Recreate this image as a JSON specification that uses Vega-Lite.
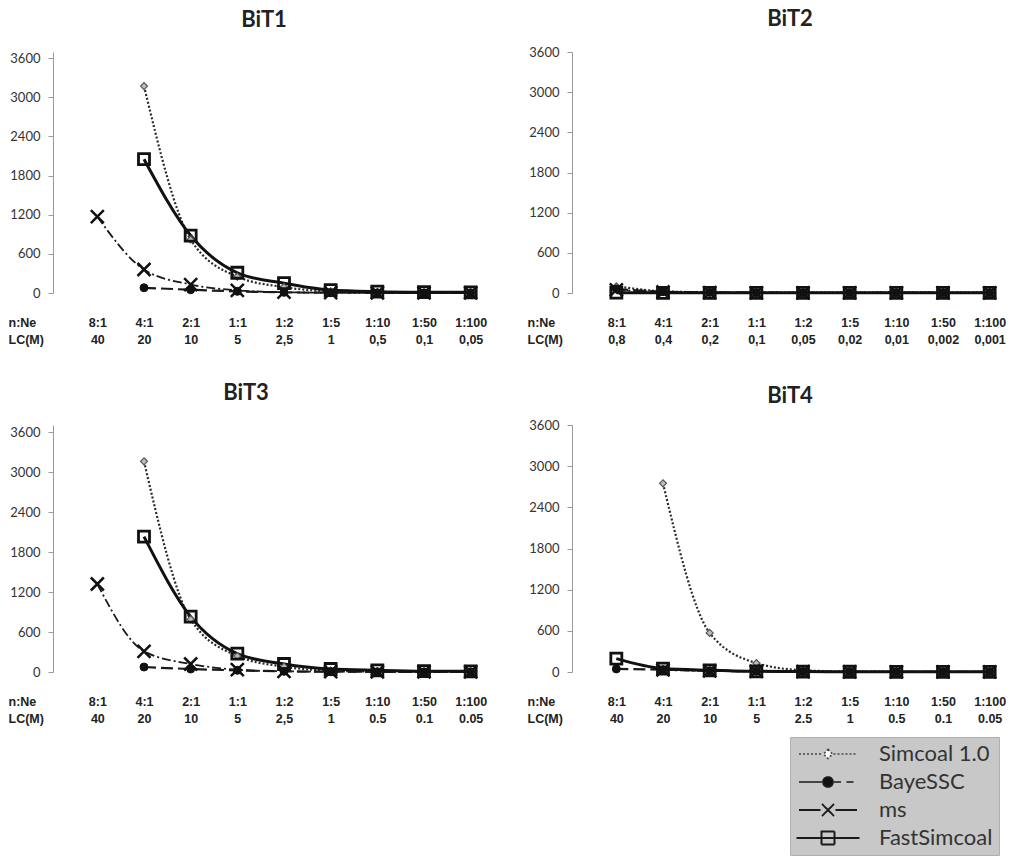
{
  "$schema": "https://vega.github.io/schema/vega-lite/v6.json",
  "background": "white",
  "padding": {"left": 8, "top": 8, "right": 5, "bottom": 0},
  "columns": 2,
  "spacing": {"row": 132, "column": 57},
  "bounds": "flush",
  "datasets": {
    "bit1": [
      {"ratio": "4:1", "series": "Simcoal 1.0", "value": 3170},
      {"ratio": "2:1", "series": "Simcoal 1.0", "value": 820},
      {"ratio": "1:1", "series": "Simcoal 1.0", "value": 250},
      {"ratio": "1:2", "series": "Simcoal 1.0", "value": 90},
      {"ratio": "1:5", "series": "Simcoal 1.0", "value": 25},
      {"ratio": "1:10", "series": "Simcoal 1.0", "value": 10},
      {"ratio": "1:50", "series": "Simcoal 1.0", "value": 5},
      {"ratio": "1:100", "series": "Simcoal 1.0", "value": 5},
      {"ratio": "4:1", "series": "BayeSSC", "value": 80},
      {"ratio": "2:1", "series": "BayeSSC", "value": 50},
      {"ratio": "1:1", "series": "BayeSSC", "value": 25},
      {"ratio": "1:2", "series": "BayeSSC", "value": 10},
      {"ratio": "1:5", "series": "BayeSSC", "value": 5},
      {"ratio": "1:10", "series": "BayeSSC", "value": 3},
      {"ratio": "1:50", "series": "BayeSSC", "value": 2},
      {"ratio": "1:100", "series": "BayeSSC", "value": 2},
      {"ratio": "8:1", "series": "ms", "value": 1170},
      {"ratio": "4:1", "series": "ms", "value": 360},
      {"ratio": "2:1", "series": "ms", "value": 130},
      {"ratio": "1:1", "series": "ms", "value": 40},
      {"ratio": "1:2", "series": "ms", "value": 12},
      {"ratio": "1:5", "series": "ms", "value": 5},
      {"ratio": "1:10", "series": "ms", "value": 3},
      {"ratio": "1:50", "series": "ms", "value": 2},
      {"ratio": "1:100", "series": "ms", "value": 2},
      {"ratio": "4:1", "series": "FastSimcoal", "value": 2050},
      {"ratio": "2:1", "series": "FastSimcoal", "value": 880},
      {"ratio": "1:1", "series": "FastSimcoal", "value": 310},
      {"ratio": "1:2", "series": "FastSimcoal", "value": 150},
      {"ratio": "1:5", "series": "FastSimcoal", "value": 45},
      {"ratio": "1:10", "series": "FastSimcoal", "value": 20},
      {"ratio": "1:50", "series": "FastSimcoal", "value": 12},
      {"ratio": "1:100", "series": "FastSimcoal", "value": 10}
    ],
    "bit2": [
      {"ratio": "8:1", "series": "Simcoal 1.0", "value": 100},
      {"ratio": "4:1", "series": "Simcoal 1.0", "value": 25},
      {"ratio": "2:1", "series": "Simcoal 1.0", "value": 10},
      {"ratio": "1:1", "series": "Simcoal 1.0", "value": 5},
      {"ratio": "1:2", "series": "Simcoal 1.0", "value": 5},
      {"ratio": "1:5", "series": "Simcoal 1.0", "value": 5},
      {"ratio": "1:10", "series": "Simcoal 1.0", "value": 10},
      {"ratio": "1:50", "series": "Simcoal 1.0", "value": 8},
      {"ratio": "1:100", "series": "Simcoal 1.0", "value": 5},
      {"ratio": "8:1", "series": "BayeSSC", "value": 60},
      {"ratio": "4:1", "series": "BayeSSC", "value": 20},
      {"ratio": "2:1", "series": "BayeSSC", "value": 8},
      {"ratio": "1:1", "series": "BayeSSC", "value": 5},
      {"ratio": "1:2", "series": "BayeSSC", "value": 3},
      {"ratio": "1:5", "series": "BayeSSC", "value": 3},
      {"ratio": "1:10", "series": "BayeSSC", "value": 2},
      {"ratio": "1:50", "series": "BayeSSC", "value": 2},
      {"ratio": "1:100", "series": "BayeSSC", "value": 2},
      {"ratio": "8:1", "series": "ms", "value": 45},
      {"ratio": "4:1", "series": "ms", "value": 15},
      {"ratio": "2:1", "series": "ms", "value": 6},
      {"ratio": "1:1", "series": "ms", "value": 3},
      {"ratio": "1:2", "series": "ms", "value": 2},
      {"ratio": "1:5", "series": "ms", "value": 2},
      {"ratio": "1:10", "series": "ms", "value": 2},
      {"ratio": "1:50", "series": "ms", "value": 2},
      {"ratio": "1:100", "series": "ms", "value": 2},
      {"ratio": "8:1", "series": "FastSimcoal", "value": 5},
      {"ratio": "4:1", "series": "FastSimcoal", "value": 3},
      {"ratio": "2:1", "series": "FastSimcoal", "value": 2},
      {"ratio": "1:1", "series": "FastSimcoal", "value": 2},
      {"ratio": "1:2", "series": "FastSimcoal", "value": 2},
      {"ratio": "1:5", "series": "FastSimcoal", "value": 2},
      {"ratio": "1:10", "series": "FastSimcoal", "value": 2},
      {"ratio": "1:50", "series": "FastSimcoal", "value": 2},
      {"ratio": "1:100", "series": "FastSimcoal", "value": 2}
    ],
    "bit3": [
      {"ratio": "4:1", "series": "Simcoal 1.0", "value": 3160},
      {"ratio": "2:1", "series": "Simcoal 1.0", "value": 790},
      {"ratio": "1:1", "series": "Simcoal 1.0", "value": 240},
      {"ratio": "1:2", "series": "Simcoal 1.0", "value": 80},
      {"ratio": "1:5", "series": "Simcoal 1.0", "value": 20},
      {"ratio": "1:10", "series": "Simcoal 1.0", "value": 8},
      {"ratio": "1:50", "series": "Simcoal 1.0", "value": 4},
      {"ratio": "1:100", "series": "Simcoal 1.0", "value": 3},
      {"ratio": "4:1", "series": "BayeSSC", "value": 75},
      {"ratio": "2:1", "series": "BayeSSC", "value": 45},
      {"ratio": "1:1", "series": "BayeSSC", "value": 25},
      {"ratio": "1:2", "series": "BayeSSC", "value": 10},
      {"ratio": "1:5", "series": "BayeSSC", "value": 5},
      {"ratio": "1:10", "series": "BayeSSC", "value": 3},
      {"ratio": "1:50", "series": "BayeSSC", "value": 2},
      {"ratio": "1:100", "series": "BayeSSC", "value": 2},
      {"ratio": "8:1", "series": "ms", "value": 1320},
      {"ratio": "4:1", "series": "ms", "value": 310},
      {"ratio": "2:1", "series": "ms", "value": 120},
      {"ratio": "1:1", "series": "ms", "value": 35},
      {"ratio": "1:2", "series": "ms", "value": 10},
      {"ratio": "1:5", "series": "ms", "value": 5},
      {"ratio": "1:10", "series": "ms", "value": 3},
      {"ratio": "1:50", "series": "ms", "value": 2},
      {"ratio": "1:100", "series": "ms", "value": 2},
      {"ratio": "4:1", "series": "FastSimcoal", "value": 2030},
      {"ratio": "2:1", "series": "FastSimcoal", "value": 830},
      {"ratio": "1:1", "series": "FastSimcoal", "value": 275},
      {"ratio": "1:2", "series": "FastSimcoal", "value": 120},
      {"ratio": "1:5", "series": "FastSimcoal", "value": 45},
      {"ratio": "1:10", "series": "FastSimcoal", "value": 25},
      {"ratio": "1:50", "series": "FastSimcoal", "value": 12},
      {"ratio": "1:100", "series": "FastSimcoal", "value": 10}
    ],
    "bit4": [
      {"ratio": "4:1", "series": "Simcoal 1.0", "value": 2750},
      {"ratio": "2:1", "series": "Simcoal 1.0", "value": 570},
      {"ratio": "1:1", "series": "Simcoal 1.0", "value": 130},
      {"ratio": "1:2", "series": "Simcoal 1.0", "value": 25},
      {"ratio": "1:5", "series": "Simcoal 1.0", "value": 8},
      {"ratio": "1:10", "series": "Simcoal 1.0", "value": 4},
      {"ratio": "1:50", "series": "Simcoal 1.0", "value": 3},
      {"ratio": "1:100", "series": "Simcoal 1.0", "value": 2},
      {"ratio": "8:1", "series": "BayeSSC", "value": 45},
      {"ratio": "4:1", "series": "BayeSSC", "value": 35},
      {"ratio": "2:1", "series": "BayeSSC", "value": 20},
      {"ratio": "1:1", "series": "BayeSSC", "value": 10},
      {"ratio": "1:2", "series": "BayeSSC", "value": 5},
      {"ratio": "1:5", "series": "BayeSSC", "value": 3},
      {"ratio": "1:10", "series": "BayeSSC", "value": 2},
      {"ratio": "1:50", "series": "BayeSSC", "value": 2},
      {"ratio": "1:100", "series": "BayeSSC", "value": 2},
      {"ratio": "4:1", "series": "ms", "value": 30},
      {"ratio": "2:1", "series": "ms", "value": 15},
      {"ratio": "1:1", "series": "ms", "value": 8},
      {"ratio": "1:2", "series": "ms", "value": 4},
      {"ratio": "1:5", "series": "ms", "value": 2},
      {"ratio": "1:10", "series": "ms", "value": 2},
      {"ratio": "1:50", "series": "ms", "value": 2},
      {"ratio": "1:100", "series": "ms", "value": 2},
      {"ratio": "8:1", "series": "FastSimcoal", "value": 195},
      {"ratio": "4:1", "series": "FastSimcoal", "value": 50},
      {"ratio": "2:1", "series": "FastSimcoal", "value": 25},
      {"ratio": "1:1", "series": "FastSimcoal", "value": 10},
      {"ratio": "1:2", "series": "FastSimcoal", "value": 6},
      {"ratio": "1:5", "series": "FastSimcoal", "value": 4},
      {"ratio": "1:10", "series": "FastSimcoal", "value": 3},
      {"ratio": "1:50", "series": "FastSimcoal", "value": 2},
      {"ratio": "1:100", "series": "FastSimcoal", "value": 2}
    ]
  },
  "concat": [
    {
      "width": 462, "height": 241,
      "title": {"text": "BiT1", "dx": -20, "offset": 20},
      "data": {"name": "bit1"},
      "encoding": {
        "x": {"field": "ratio", "type": "nominal", "scale": {"type": "point", "padding": 0.95, "domain": ["8:1","4:1","2:1","1:1","1:2","1:5","1:10","1:50","1:100"]},
              "axis": {"title": ["n:Ne", "LC(M)"], "labelExpr": "[datum.label, {'8:1':'40','4:1':'20','2:1':'10','1:1':'5','1:2':'2,5','1:5':'1','1:10':'0,5','1:50':'0,1','1:100':'0,05'}[datum.label]]"}},
        "y": {"field": "value", "type": "quantitative", "scale": {"domain": [0, 3692], "nice": false}, "axis": {"values": [0,600,1200,1800,2400,3000,3600], "format": "d"}}
      },
      "layer": [
        {"transform": [{"filter": "datum.series === 'Simcoal 1.0'"}], "mark": {"type": "line", "interpolate": "monotone", "stroke": "#2a2a2a", "strokeWidth": 2.2, "strokeDash": [2, 2]}, "encoding": {}},
        {"transform": [{"filter": "datum.series === 'BayeSSC'"}], "mark": {"type": "line", "interpolate": "monotone", "stroke": "#1a1a1a", "strokeWidth": 2.2, "strokeDash": [12, 5]}, "encoding": {}},
        {"transform": [{"filter": "datum.series === 'ms'"}], "mark": {"type": "line", "interpolate": "monotone", "stroke": "#1a1a1a", "strokeWidth": 1.8, "strokeDash": [9, 3, 2, 3]}, "encoding": {}},
        {"transform": [{"filter": "datum.series === 'FastSimcoal'"}], "mark": {"type": "line", "interpolate": "monotone", "stroke": "#111", "strokeWidth": 3}, "encoding": {}},
        {"transform": [{"filter": "datum.series === 'Simcoal 1.0'"}], "mark": {"type": "point", "shape": "diamond", "size": 49, "fill": "#bbbbbb", "stroke": "#555", "strokeWidth": 1.2, "opacity": 1}, "encoding": {}},
        {"transform": [{"filter": "datum.series === 'BayeSSC'"}], "mark": {"type": "point", "shape": "circle", "size": 64, "fill": "#111", "stroke": "#111", "strokeWidth": 1, "opacity": 1}, "encoding": {}},
        {"transform": [{"filter": "datum.series === 'ms'"}], "mark": {"type": "point", "shape": "M-1,-1L1,1M-1,1L1,-1", "size": 169, "fill": "transparent", "stroke": "#111", "strokeWidth": 2.5, "opacity": 1}, "encoding": {}},
        {"transform": [{"filter": "datum.series === 'FastSimcoal'"}], "mark": {"type": "point", "shape": "square", "size": 121, "fill": "transparent", "stroke": "#111", "strokeWidth": 2.8, "opacity": 1}, "encoding": {}}
      ]
    },
    {
      "width": 462, "height": 241,
      "title": {"text": "BiT2", "dx": -13, "offset": 15},
      "data": {"name": "bit2"},
      "encoding": {
        "x": {"field": "ratio", "type": "nominal", "scale": {"type": "point", "padding": 0.95, "domain": ["8:1","4:1","2:1","1:1","1:2","1:5","1:10","1:50","1:100"]},
              "axis": {"title": ["n:Ne", "LC(M)"], "labelExpr": "[datum.label, {'8:1':'0,8','4:1':'0,4','2:1':'0,2','1:1':'0,1','1:2':'0,05','1:5':'0,02','1:10':'0,01','1:50':'0,002','1:100':'0,001'}[datum.label]]"}},
        "y": {"field": "value", "type": "quantitative", "scale": {"domain": [0, 3600], "nice": false}, "axis": {"values": [0,600,1200,1800,2400,3000,3600], "format": "d"}}
      },
      "layer": [
        {"transform": [{"filter": "datum.series === 'Simcoal 1.0'"}], "mark": {"type": "line", "interpolate": "monotone", "stroke": "#2a2a2a", "strokeWidth": 2.2, "strokeDash": [2, 2]}, "encoding": {}},
        {"transform": [{"filter": "datum.series === 'BayeSSC'"}], "mark": {"type": "line", "interpolate": "monotone", "stroke": "#1a1a1a", "strokeWidth": 2.2, "strokeDash": [12, 5]}, "encoding": {}},
        {"transform": [{"filter": "datum.series === 'ms'"}], "mark": {"type": "line", "interpolate": "monotone", "stroke": "#1a1a1a", "strokeWidth": 1.8, "strokeDash": [9, 3, 2, 3]}, "encoding": {}},
        {"transform": [{"filter": "datum.series === 'FastSimcoal'"}], "mark": {"type": "line", "interpolate": "monotone", "stroke": "#111", "strokeWidth": 3}, "encoding": {}},
        {"transform": [{"filter": "datum.series === 'Simcoal 1.0'"}], "mark": {"type": "point", "shape": "diamond", "size": 49, "fill": "#bbbbbb", "stroke": "#555", "strokeWidth": 1.2, "opacity": 1}, "encoding": {}},
        {"transform": [{"filter": "datum.series === 'BayeSSC'"}], "mark": {"type": "point", "shape": "circle", "size": 64, "fill": "#111", "stroke": "#111", "strokeWidth": 1, "opacity": 1}, "encoding": {}},
        {"transform": [{"filter": "datum.series === 'ms'"}], "mark": {"type": "point", "shape": "M-1,-1L1,1M-1,1L1,-1", "size": 169, "fill": "transparent", "stroke": "#111", "strokeWidth": 2.5, "opacity": 1}, "encoding": {}},
        {"transform": [{"filter": "datum.series === 'FastSimcoal'"}], "mark": {"type": "point", "shape": "square", "size": 121, "fill": "transparent", "stroke": "#111", "strokeWidth": 2.8, "opacity": 1}, "encoding": {}}
      ]
    },
    {
      "width": 462, "height": 247,
      "title": {"text": "BiT3", "dx": -38, "offset": 20},
      "data": {"name": "bit3"},
      "encoding": {
        "x": {"field": "ratio", "type": "nominal", "scale": {"type": "point", "padding": 0.95, "domain": ["8:1","4:1","2:1","1:1","1:2","1:5","1:10","1:50","1:100"]},
              "axis": {"title": ["n:Ne", "LC(M)"], "labelExpr": "[datum.label, {'8:1':'40','4:1':'20','2:1':'10','1:1':'5','1:2':'2,5','1:5':'1','1:10':'0.5','1:50':'0.1','1:100':'0.05'}[datum.label]]"}},
        "y": {"field": "value", "type": "quantitative", "scale": {"domain": [0, 3705], "nice": false}, "axis": {"values": [0,600,1200,1800,2400,3000,3600], "format": "d"}}
      },
      "layer": [
        {"transform": [{"filter": "datum.series === 'Simcoal 1.0'"}], "mark": {"type": "line", "interpolate": "monotone", "stroke": "#2a2a2a", "strokeWidth": 2.2, "strokeDash": [2, 2]}, "encoding": {}},
        {"transform": [{"filter": "datum.series === 'BayeSSC'"}], "mark": {"type": "line", "interpolate": "monotone", "stroke": "#1a1a1a", "strokeWidth": 2.2, "strokeDash": [12, 5]}, "encoding": {}},
        {"transform": [{"filter": "datum.series === 'ms'"}], "mark": {"type": "line", "interpolate": "monotone", "stroke": "#1a1a1a", "strokeWidth": 1.8, "strokeDash": [9, 3, 2, 3]}, "encoding": {}},
        {"transform": [{"filter": "datum.series === 'FastSimcoal'"}], "mark": {"type": "line", "interpolate": "monotone", "stroke": "#111", "strokeWidth": 3}, "encoding": {}},
        {"transform": [{"filter": "datum.series === 'Simcoal 1.0'"}], "mark": {"type": "point", "shape": "diamond", "size": 49, "fill": "#bbbbbb", "stroke": "#555", "strokeWidth": 1.2, "opacity": 1}, "encoding": {}},
        {"transform": [{"filter": "datum.series === 'BayeSSC'"}], "mark": {"type": "point", "shape": "circle", "size": 64, "fill": "#111", "stroke": "#111", "strokeWidth": 1, "opacity": 1}, "encoding": {}},
        {"transform": [{"filter": "datum.series === 'ms'"}], "mark": {"type": "point", "shape": "M-1,-1L1,1M-1,1L1,-1", "size": 169, "fill": "transparent", "stroke": "#111", "strokeWidth": 2.5, "opacity": 1}, "encoding": {}},
        {"transform": [{"filter": "datum.series === 'FastSimcoal'"}], "mark": {"type": "point", "shape": "square", "size": 121, "fill": "transparent", "stroke": "#111", "strokeWidth": 2.8, "opacity": 1}, "encoding": {}}
      ]
    },
    {
      "width": 462, "height": 247,
      "title": {"text": "BiT4", "dx": -13, "offset": 11},
      "data": {"name": "bit4"},
      "encoding": {
        "x": {"field": "ratio", "type": "nominal", "scale": {"type": "point", "padding": 0.95, "domain": ["8:1","4:1","2:1","1:1","1:2","1:5","1:10","1:50","1:100"]},
              "axis": {"title": ["n:Ne", "LC(M)"], "labelExpr": "[datum.label, {'8:1':'40','4:1':'20','2:1':'10','1:1':'5','1:2':'2.5','1:5':'1','1:10':'0.5','1:50':'0.1','1:100':'0.05'}[datum.label]]"}},
        "y": {"field": "value", "type": "quantitative", "scale": {"domain": [0, 3600], "nice": false}, "axis": {"values": [0,600,1200,1800,2400,3000,3600], "format": "d"}}
      },
      "layer": [
        {"transform": [{"filter": "datum.series === 'Simcoal 1.0'"}], "mark": {"type": "line", "interpolate": "monotone", "stroke": "#2a2a2a", "strokeWidth": 2.2, "strokeDash": [2, 2]}, "encoding": {}},
        {"transform": [{"filter": "datum.series === 'BayeSSC'"}], "mark": {"type": "line", "interpolate": "monotone", "stroke": "#1a1a1a", "strokeWidth": 2.2, "strokeDash": [12, 5]}, "encoding": {}},
        {"transform": [{"filter": "datum.series === 'ms'"}], "mark": {"type": "line", "interpolate": "monotone", "stroke": "#1a1a1a", "strokeWidth": 1.8, "strokeDash": [9, 3, 2, 3]}, "encoding": {}},
        {"transform": [{"filter": "datum.series === 'FastSimcoal'"}], "mark": {"type": "line", "interpolate": "monotone", "stroke": "#111", "strokeWidth": 3}, "encoding": {}},
        {"transform": [{"filter": "datum.series === 'Simcoal 1.0'"}], "mark": {"type": "point", "shape": "diamond", "size": 49, "fill": "#bbbbbb", "stroke": "#555", "strokeWidth": 1.2, "opacity": 1}, "encoding": {}},
        {"transform": [{"filter": "datum.series === 'BayeSSC'"}], "mark": {"type": "point", "shape": "circle", "size": 64, "fill": "#111", "stroke": "#111", "strokeWidth": 1, "opacity": 1}, "encoding": {}},
        {"transform": [{"filter": "datum.series === 'ms'"}], "mark": {"type": "point", "shape": "M-1,-1L1,1M-1,1L1,-1", "size": 169, "fill": "transparent", "stroke": "#111", "strokeWidth": 2.5, "opacity": 1}, "encoding": {}},
        {"transform": [{"filter": "datum.series === 'FastSimcoal'"}], "mark": {"type": "point", "shape": "square", "size": 121, "fill": "transparent", "stroke": "#111", "strokeWidth": 2.8, "opacity": 1}, "encoding": {}},
        {"transform": [{"filter": "false"}],
         "mark": {"type": "point", "opacity": 1},
         "encoding": {
           "shape": {"field": "series", "type": "nominal",
             "scale": {"domain": ["Simcoal 1.0","BayeSSC","ms","FastSimcoal"], "range": [
               "M-5.8,0H-1.1M1.1,0H5.8M0,-0.9L0.9,0L0,0.9L-0.9,0Z",
               "M-5.8,0H-1.2M1.2,0H2.6M3.7,0H5.1M-1,0A1,1,0,1,0,1,0A1,1,0,1,0,-1,0Z",
               "M-5.8,0H-1.5M1.5,0H5.8M-1.2,-1.2L1.2,1.2M-1.2,1.2L1.2,-1.2",
               "M-6.3,0H-1.3M1.3,0H6.3M-1.3,-1.3H1.3V1.3H-1.3ZM-1.3,0H1.3"]},
             "legend": {"title": null, "orient": "none", "legendX": 737, "legendY": 685, "direction": "vertical"}},
           "fill": {"field": "series", "type": "nominal", "scale": {"domain": ["Simcoal 1.0","BayeSSC","ms","FastSimcoal"], "range": ["#ffffff", "#111111", "transparent", "transparent"]},
             "legend": {"title": null, "orient": "none", "legendX": 737, "legendY": 685, "direction": "vertical"}},
           "stroke": {"field": "series", "type": "nominal", "scale": {"domain": ["Simcoal 1.0","BayeSSC","ms","FastSimcoal"], "range": ["#444444", "#1a1a1a", "#1a1a1a", "#1a1a1a"]},
             "legend": {"title": null, "orient": "none", "legendX": 737, "legendY": 685, "direction": "vertical"}},
           "strokeWidth": {"field": "series", "type": "nominal", "scale": {"domain": ["Simcoal 1.0","BayeSSC","ms","FastSimcoal"], "range": [1.6, 2, 2, 3]},
             "legend": {"title": null, "orient": "none", "legendX": 737, "legendY": 685, "direction": "vertical"}},
           "strokeDash": {"field": "series", "type": "nominal", "scale": {"domain": ["Simcoal 1.0","BayeSSC","ms","FastSimcoal"], "range": [[2, 2], [1, 0], [1, 0], [1, 0]]},
             "legend": {"title": null, "orient": "none", "legendX": 737, "legendY": 685, "direction": "vertical"}}
         }}
      ]
    }
  ],
  "resolve": {"scale": {"x": "independent", "y": "independent"}},
  "config": {
    "view": {"stroke": null},
    "axisY": {"labelFont": "Lato", "labelFontSize": 13, "labelColor": "#333", "tickSize": 5, "tickColor": "#999", "domainColor": "#999", "labelPadding": 8, "grid": false, "title": null},
    "axisX": {"domain": false, "ticks": false, "tickSize": 0, "grid": false, "labelAngle": 0, "labelOverlap": false,
      "labelFont": "Liberation Sans", "labelFontSize": 12.5, "labelFontWeight": "bold", "labelColor": "#222",
      "labelPadding": 23, "labelBaseline": "top", "labelLineHeight": 17,
      "titleFont": "Liberation Sans", "titleFontSize": 12.5, "titleFontWeight": "bold", "titleColor": "#222",
      "titleX": -45, "titleY": 23, "titleAlign": "left", "titleBaseline": "top", "titleLineHeight": 17, "titleAngle": 0},
    "title": {"font": "Lato", "fontSize": 22, "fontWeight": "bold", "color": "#222", "anchor": "middle"},
    "legend": {"fillColor": "#c8c8c8", "strokeColor": "#b0b0b0", "padding": 6, "symbolSize": 100, "symbolOffset": 21, "labelOffset": 40,
      "symbolOpacity": 1, "labelFont": "Lato", "labelFontSize": 22, "labelColor": "#333", "rowPadding": 6}
  }
}
